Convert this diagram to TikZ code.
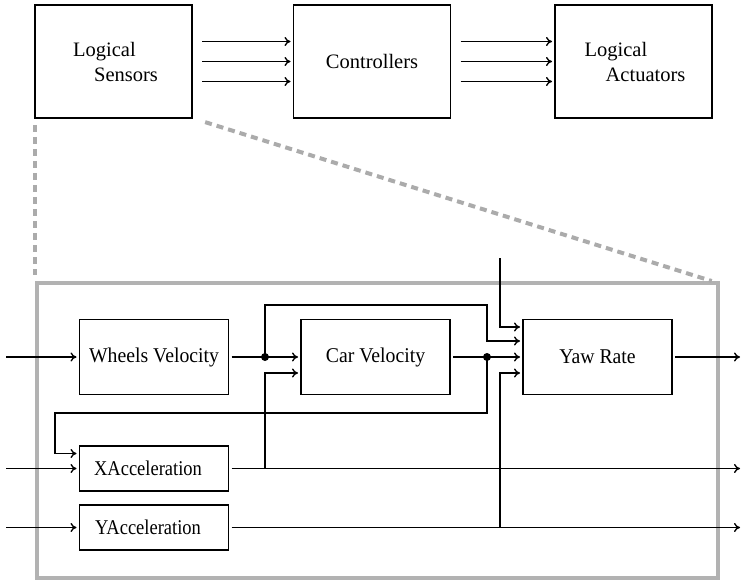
\documentclass[tikz,border=0pt]{standalone}
\usepackage{fontspec}
\setmainfont{Liberation Serif}
\newfontfamily\condA[FakeStretch=0.94]{Liberation Serif}
\newfontfamily\condB[FakeStretch=0.88]{Liberation Serif}
\usetikzlibrary{arrows.meta,calc}
\begin{document}
\begin{tikzpicture}[x=1pt,y=-1pt,
  bigbox/.style={draw,line width=1.6pt,minimum width=157pt,minimum height=113pt,inner sep=0pt,outer sep=0pt,font=\fontsize{20.5}{25}\selectfont},
  smallbox/.style={draw,line width=1.6pt,minimum width=149pt,inner sep=0pt,outer sep=0pt,font=\fontsize{21}{24}\selectfont},
  arr/.style={line width=1.35pt,-{To[length=6pt,width=9pt]},shorten >=3pt},
  wire/.style={line width=1.35pt},
  graydash/.style={line width=4pt,draw=black!33,dash pattern=on 7pt off 5pt},
  dot/.style={circle,fill=black,inner sep=0pt,minimum size=8pt}]
\useasboundingbox (0,0) rectangle (745,583);
% top row
\node[bigbox,align=left,text depth=0pt] (ls) at (113.5,61.5) {\hspace*{4pt}Logical\\\hspace*{25pt}Sensors};
\node[bigbox] (ctl) at (372,61.5) {Controllers};
\node[bigbox,align=left] (la) at (633.5,61.5) {\hspace*{3pt}Logical\\\hspace*{24pt}Actuators};
\foreach \s in {20,0,-20}{
  \draw[arr,shorten <=10pt] ([yshift=\s pt]ls.east) -- ([yshift=\s pt]ctl.west);
  \draw[arr,shorten <=10pt] ([yshift=\s pt]ctl.east) -- ([yshift=\s pt]la.west);
}
% frame
\node[draw=black!30,line width=4pt,minimum width=681pt,minimum height=295pt,inner sep=0pt,outer sep=0pt] (frame) at (377.5,430.5) {};
\draw[graydash] ([yshift=-7pt]ls.south west) -- ([yshift=8pt]ls.south west |- frame.north);
\draw[graydash] ($(ls.south east)!0.025!(frame.north east)$) -- ($(ls.south east)!0.988!(frame.north east)$);
% inner boxes
\node[smallbox,minimum height=75pt] (wv) at (154,357) {\condA Wheels Velocity};
\node[smallbox,minimum height=75pt] (cv) at (375.5,357) {\condA Car Velocity};
\node[smallbox,minimum height=75pt] (yr) at (597.5,357) {\condA Yaw Rate};
\node[smallbox,minimum height=45pt] (xa) at (154,468.5) {\condB\hspace*{-12pt}XAcceleration};
\node[smallbox,minimum height=45pt] (ya) at (154,527.5) {\condB\hspace*{-12pt}YAcceleration};
% coordinates
\coordinate (in1) at (6,357);
\coordinate (in2) at (6,468.5);
\coordinate (in3) at (6,527.5);
\coordinate (out1) at (743,357);
\coordinate (out2) at (743,468.5);
\coordinate (out3) at (743,527.5);
\coordinate (d1) at (265,357);
\coordinate (d2) at (487,357);
\coordinate (b1) at (265,468.5);
\coordinate (b2) at (500,527.5);
\coordinate (tin) at (500,258);
% inputs
\draw[arr] (in1) -- (wv.west);
\draw[arr] (in2) -- (xa.west);
\draw[arr] (in3) -- (ya.west);
% wheels -> car velocity
\draw[wire,shorten <=3pt] (wv.east) -- (d1);
\draw[arr] (d1) -- (cv.west);
\draw[arr] (d1) -- ++(0,-52) -| ([yshift=16pt]d2) -- ([yshift=16pt]yr.west);
% car velocity -> yaw rate
\draw[wire,shorten <=3pt] (cv.east) -- (d2);
\draw[arr] (d2) -- (yr.west);
\draw[arr] (d2) -- ++(0,56) -| ([xshift=-24.5pt,yshift=15pt]xa.west) -- ([yshift=15pt]xa.west);
% top input
\draw[arr] (tin) |- ([yshift=30pt]yr.west);
% XAcceleration
\draw[arr,shorten <=3pt] (xa.east) -- (out2);
\draw[arr] (b1) |- ([yshift=-16pt]cv.west);
% YAcceleration
\draw[arr,shorten <=3pt] (ya.east) -- (out3);
\draw[arr] (b2) |- ([yshift=-16pt]yr.west);
% yaw output
\draw[arr,shorten <=3pt] (yr.east) -- (out1);
\node[dot] (dot1) at (d1) {};
\node[dot] (dot2) at (d2) {};
\end{tikzpicture}
\end{document}
